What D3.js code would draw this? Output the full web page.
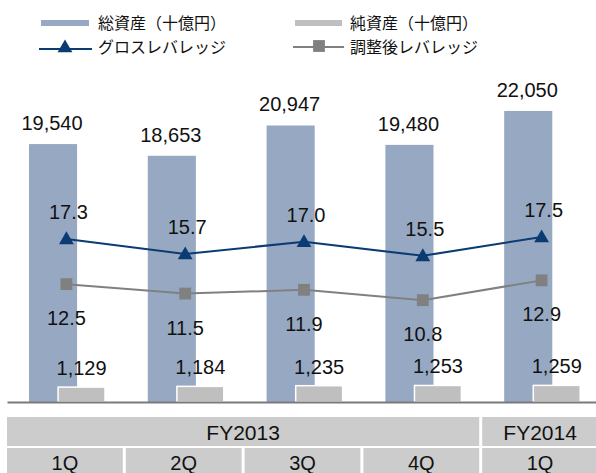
<!DOCTYPE html>
<html><head><meta charset="utf-8">
<script src="https://cdn.jsdelivr.net/npm/d3@7"></script>
<style>
html,body{margin:0;padding:0;background:#fff;}
svg{display:block;}
</style></head>
<body>
<svg id="chart" width="596" height="473"></svg>
<script>
// ---- data ----
const quarters = ["1Q", "2Q", "3Q", "4Q", "1Q"];
const fiscalYears = ["FY2013", "FY2013", "FY2013", "FY2013", "FY2014"];
const totalAssets = [19540, 18653, 20947, 19480, 22050];
const netAssets = [1129, 1184, 1235, 1253, 1259];
const grossLeverage = [17.3, 15.7, 17.0, 15.5, 17.5];
const adjustedLeverage = [12.5, 11.5, 11.9, 10.8, 12.9];
const seriesNames = ["総資産（十億円）", "純資産（十億円）", "グロスレバレッジ", "調整後レバレッジ"];

// ---- styles ----
const C_TOTAL = "#97a9c2", C_NET = "#bfbfbf", C_GROSS = "#0a3b73", C_ADJ = "#808080";
const NUM_FONT = "'Liberation Sans', Arial, sans-serif";
const JP_FONT = "'Noto Sans CJK JP', sans-serif";

const svg = d3.select("#chart");
const idx = d3.range(quarters.length);
const x = d3.scaleBand().domain(idx).range([7, 601]).padding(0);
const bw = x.bandwidth();
const y = d3.scaleLinear().domain([0, 25000]).range([402, 72]);
const y2 = d3.scaleLinear().domain([0, 35]).range([402, 72]);
const cx = i => x(i) + bw / 2;

// total asset bars
const tX = i => x(i) + bw * 0.185, tW = bw * 0.405;
const nX = i => x(i) + bw * 0.43, nW = bw * 0.395;
svg.append("g").selectAll("rect").data(idx).join("rect")
  .attr("x", tX).attr("width", tW)
  .attr("y", i => y(totalAssets[i])).attr("height", i => y(0) - y(totalAssets[i]))
  .attr("fill", C_TOTAL);
// net asset bars
svg.append("g").selectAll("rect").data(idx).join("rect")
  .attr("x", nX).attr("width", nW)
  .attr("y", i => y(netAssets[i])).attr("height", i => y(0) - y(netAssets[i]))
  .attr("fill", C_NET).attr("stroke", "#fff").attr("stroke-width", 1.5);

// axis line
const ax = svg.append("g").attr("transform", `translate(0,${y(0)})`)
  .call(d3.axisBottom(x).tickSize(0).tickFormat(""));
ax.select(".domain").attr("stroke", "#7a7a7a").attr("stroke-width", 2);

// lines
const lineG = d3.line().x(i => cx(i)).y(i => y2(grossLeverage[i]));
const lineA = d3.line().x(i => cx(i)).y(i => y2(adjustedLeverage[i]));
svg.append("path").attr("d", lineA(idx)).attr("fill", "none").attr("stroke", C_ADJ).attr("stroke-width", 2);
svg.append("path").attr("d", lineG(idx)).attr("fill", "none").attr("stroke", C_GROSS).attr("stroke-width", 2);
const tri = d3.symbol().type(d3.symbolTriangle).size(95);
const sq = d3.symbol().type(d3.symbolSquare).size(140);
svg.append("g").selectAll("path").data(idx).join("path")
  .attr("d", sq).attr("transform", i => `translate(${cx(i)},${y2(adjustedLeverage[i])})`)
  .attr("fill", C_ADJ);
svg.append("g").selectAll("path").data(idx).join("path")
  .attr("d", tri).attr("transform", i => `translate(${cx(i)},${y2(grossLeverage[i]) + 1})`)
  .attr("fill", C_GROSS);

// labels
const fmtInt = d3.format(",");
const fmt1 = d3.format(".1f");
function labels(cls, xf, yf, txt) {
  svg.append("g").selectAll("text").data(idx).join("text")
    .attr("x", xf).attr("y", yf).text(txt)
    .attr("text-anchor", "middle").attr("font-family", NUM_FONT)
    .attr("font-size", 20).attr("fill", "#111");
}
labels("t", i => tX(i) + tW / 2 - 1, i => y(totalAssets[i]) - 14, i => fmtInt(totalAssets[i]));
labels("n", i => nX(i) + nW / 2, i => y(netAssets[i]) - 12, i => fmtInt(netAssets[i]));
labels("g", i => cx(i) + 2, i => y2(grossLeverage[i]) - 20, i => fmt1(grossLeverage[i]));
labels("a", i => cx(i), i => y2(adjustedLeverage[i]) + 41, i => fmt1(adjustedLeverage[i]));

// category table
const CELL = "#cccccc", GAP = 3;
const row1Y = 417, row1H = 29, row2Y = 448, row2H = 30;
// fiscal-year groups
const groups = [];
fiscalYears.forEach((fy, i) => {
  const last = groups[groups.length - 1];
  if (last && last.fy === fy) last.end = i; else groups.push({ fy, start: i, end: i });
});
const tbl = svg.append("g");
tbl.selectAll("rect.fy").data(groups).join("rect").attr("class", "fy")
  .attr("x", g => x(g.start)).attr("width", g => x(g.end) + bw - x(g.start) - GAP)
  .attr("y", row1Y).attr("height", row1H).attr("fill", CELL);
tbl.selectAll("text.fy").data(groups).join("text").attr("class", "fy")
  .attr("x", g => (x(g.start) + x(g.end) + bw - GAP) / 2).attr("y", row1Y + 22.5)
  .attr("text-anchor", "middle").attr("font-family", NUM_FONT).attr("font-size", 21)
  .attr("fill", "#111").text(g => g.fy);
tbl.selectAll("rect.q").data(idx).join("rect").attr("class", "q")
  .attr("x", i => x(i)).attr("width", bw - GAP)
  .attr("y", row2Y).attr("height", row2H).attr("fill", CELL);
tbl.selectAll("text.q").data(idx).join("text").attr("class", "q")
  .attr("x", i => x(i) + (bw - GAP) / 2).attr("y", 470)
  .attr("text-anchor", "middle").attr("font-family", NUM_FONT).attr("font-size", 20)
  .attr("fill", "#111").text(i => quarters[i]);

// legend
const lg = svg.append("g").attr("font-family", JP_FONT).attr("font-size", 16).attr("fill", "#111");
lg.append("rect").attr("x", 41).attr("y", 20).attr("width", 48).attr("height", 6).attr("fill", C_TOTAL);
lg.append("text").attr("x", 98).attr("y", 29).text(seriesNames[0]);
lg.append("rect").attr("x", 295).attr("y", 20).attr("width", 47).attr("height", 6).attr("fill", C_NET);
lg.append("text").attr("x", 350).attr("y", 29).text(seriesNames[1]);
lg.append("line").attr("x1", 39).attr("x2", 92).attr("y1", 49).attr("y2", 49).attr("stroke", C_GROSS).attr("stroke-width", 2);
lg.append("path").attr("d", tri).attr("transform", "translate(65,48)").attr("fill", C_GROSS);
lg.append("text").attr("x", 98).attr("y", 53).text(seriesNames[2]);
lg.append("line").attr("x1", 293).attr("x2", 344).attr("y1", 47).attr("y2", 47).attr("stroke", C_ADJ).attr("stroke-width", 2);
lg.append("path").attr("d", sq).attr("transform", "translate(319,46)").attr("fill", C_ADJ);
lg.append("text").attr("x", 350).attr("y", 53).text(seriesNames[3]);
</script>
</body></html>
